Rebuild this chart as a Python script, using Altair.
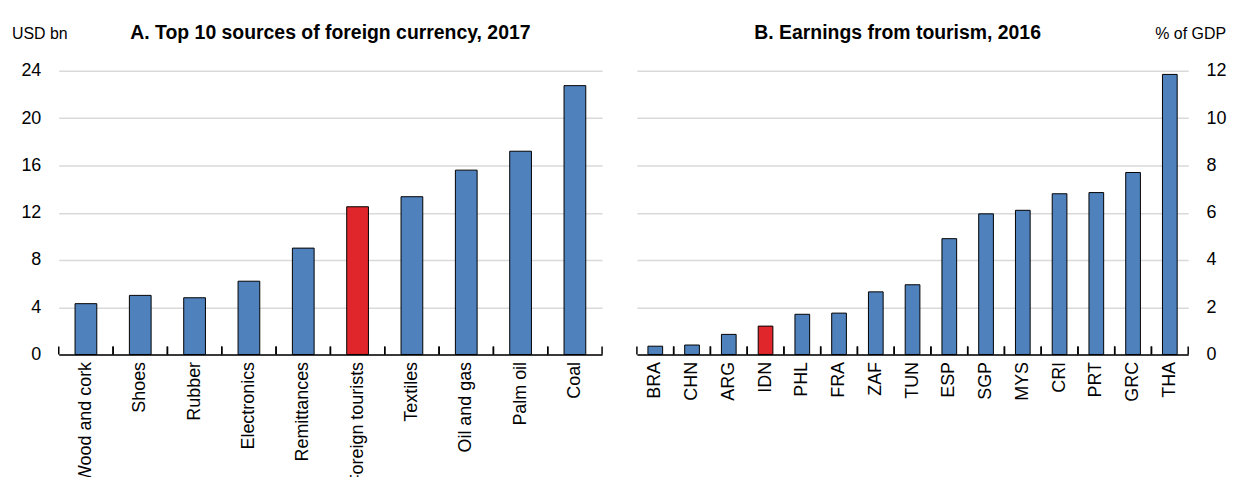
import altair as alt
import pandas as pd

# Panel A data
cats_a = ["Wood and cork", "Shoes", "Rubber", "Electronics", "Remittances",
          "Foreign tourists", "Textiles", "Oil and gas", "Palm oil", "Coal"]
vals_a = [4.3, 5.0, 4.8, 6.2, 9.0, 12.5, 13.35, 15.6, 17.2, 22.75]
hl_a = "Foreign tourists"
ticks_a = [0, 4, 8, 12, 16, 20, 24]

# Panel B data
cats_b = ["BRA", "CHN", "ARG", "IDN", "PHL", "FRA", "ZAF", "TUN", "ESP",
          "SGP", "MYS", "CRI", "PRT", "GRC", "THA"]
vals_b = [0.35, 0.4, 0.85, 1.2, 1.7, 1.75, 2.65, 2.95, 4.9,
          5.95, 6.1, 6.8, 6.85, 7.7, 11.85]
hl_b = "IDN"
ticks_b = [0, 2, 4, 6, 8, 10, 12]

BLUE = "#4F81BD"
RED = "#E0262B"
FONT = "Liberation Sans"
H = 285


def panel(cats, vals, hl, ticks, ymax, orient, title, unit, width,
          unit_x, unit_align, tick_len, title_x):
    df = pd.DataFrame({"cat": cats, "val": vals,
                       "grp": ["hl" if c == hl else "base" for c in cats]})
    xaxis = alt.Axis(title=None, labelAngle=-90, labelAlign="right",
                     labelBaseline="middle", ticks=False, domainColor="black",
                     domainWidth=1.5, labelFont=FONT, labelFontSize=18,
                     labelColor="black", labelPadding=7, grid=False,
                     labelLimit=400)
    xsc = alt.Scale(paddingInner=0, paddingOuter=0)
    y = alt.Y("val:Q", scale=alt.Scale(domain=[0, ymax], nice=False),
              axis=alt.Axis(title=None, orient=orient, values=ticks,
                            domain=False, ticks=False, grid=True,
                            gridColor="#D9D9D9", gridWidth=1.5,
                            labelFont=FONT, labelFontSize=18,
                            labelPadding=18, labelColor="black"))
    bars = alt.Chart(df).mark_bar(
        width=alt.RelativeBandSize(0.4), stroke="black", strokeWidth=1
    ).encode(
        x=alt.X("cat:N", sort=cats, scale=xsc, axis=xaxis),
        y=y,
        color=alt.Color("grp:N", scale=alt.Scale(domain=["base", "hl"],
                                                 range=[BLUE, RED]),
                        legend=None),
    )
    tdf = pd.DataFrame({"cat": cats})
    t0 = alt.Chart(tdf).mark_rule(color="black", strokeWidth=1.5).encode(
        x=alt.X("cat:N", sort=cats, scale=xsc, axis=xaxis, bandPosition=0),
        y=alt.datum(0), y2=alt.datum(tick_len))
    t1 = alt.Chart(tdf).mark_rule(color="black", strokeWidth=1.5).encode(
        x=alt.X("cat:N", sort=cats, scale=xsc, axis=xaxis, bandPosition=1),
        y=alt.datum(0), y2=alt.datum(tick_len))
    utxt = alt.Chart(pd.DataFrame({"t": [unit]})).mark_text(
        align=unit_align, baseline="alphabetic", font=FONT, fontSize=16,
        color="black"
    ).encode(text="t:N", x=alt.value(unit_x), y=alt.value(-32))
    ttxt = alt.Chart(pd.DataFrame({"t": [title]})).mark_text(
        align="center", baseline="alphabetic", font=FONT, fontSize=19.5,
        fontWeight="bold", color="black"
    ).encode(text="t:N", x=alt.value(title_x), y=alt.value(-32))
    return alt.layer(bars, t0, t1, utxt, ttxt).properties(
        width=width, height=H)


left = panel(cats_a, vals_a, hl_a, ticks_a, 24, "left",
             "A. Top 10 sources of foreign currency, 2017", "USD bn",
             546, -47, "left", 0.67, 273)
right = panel(cats_b, vals_b, hl_b, ticks_b, 12, "right",
              "B. Earnings from tourism, 2016", "% of GDP",
              554, 592, "right", 0.34, 262)

chart = alt.hconcat(left, right, spacing=33).configure_view(
    stroke=None
).properties(
    padding={"left": 4, "top": 14, "right": 0, "bottom": 0},
    background="white",
)

chart.save("out.html", embed_options={"renderer": "svg", "actions": False})
